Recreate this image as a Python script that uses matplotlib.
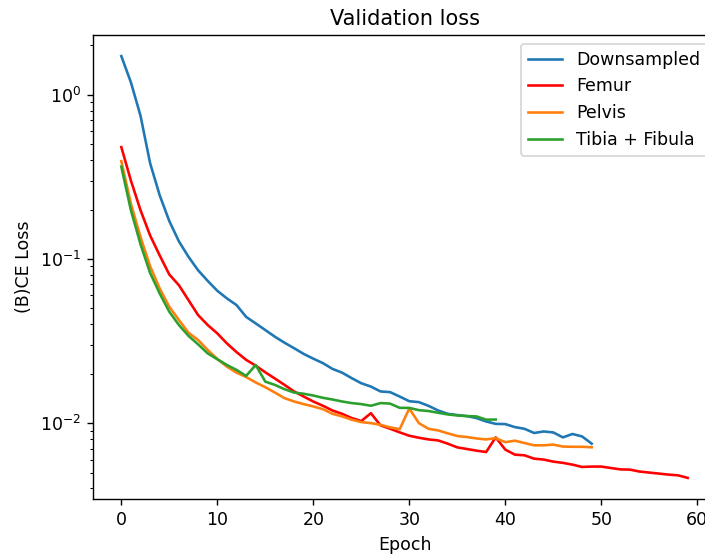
import matplotlib
matplotlib.use("Agg")
import matplotlib.pyplot as plt
import numpy as np

downsampled = [1.72, 1.19, 0.745, 0.383, 0.244, 0.170, 0.128, 0.103, 0.0853, 0.0735,
               0.064, 0.0575, 0.0524, 0.0444, 0.0405, 0.0369, 0.0336, 0.0309, 0.0286, 0.0264,
               0.0247, 0.0232, 0.0214, 0.0203, 0.0188, 0.0175, 0.0167, 0.0156, 0.01545, 0.01452,
               0.0136, 0.01343, 0.01275, 0.01195, 0.0114, 0.0112, 0.01104, 0.01074, 0.01024, 0.0099,
               0.00987, 0.00946, 0.00924, 0.00871, 0.0089, 0.00878, 0.00819, 0.00859, 0.0083, 0.0075]

femur = [0.48, 0.30, 0.198, 0.139, 0.105, 0.0804, 0.0692, 0.0561, 0.0455, 0.0396,
         0.0352, 0.0306, 0.0271, 0.0243, 0.0224, 0.0204, 0.0187, 0.0171, 0.0156, 0.01452,
         0.01354, 0.01276, 0.01194, 0.0114, 0.01074, 0.0103, 0.0115, 0.00969, 0.00925, 0.00879,
         0.00838, 0.00815, 0.00796, 0.00785, 0.0075, 0.00712, 0.00696, 0.0068, 0.00667, 0.00819,
         0.0069, 0.00643, 0.00637, 0.00608, 0.006, 0.00583, 0.00573, 0.00559, 0.00541, 0.00544,
         0.00544, 0.00533, 0.00523, 0.00521, 0.00507, 0.005, 0.00493, 0.00486, 0.00481, 0.00464]

pelvis = [0.394, 0.217, 0.136, 0.0903, 0.066, 0.0511, 0.0425, 0.0355, 0.0321, 0.0279,
          0.0246, 0.0221, 0.0203, 0.0191, 0.0177, 0.01656, 0.01536, 0.0142, 0.01355, 0.01306,
          0.01264, 0.01217, 0.0114, 0.01099, 0.0105, 0.01015, 0.0100, 0.00977, 0.00942, 0.0092,
          0.01228, 0.0100, 0.00924, 0.00903, 0.00867, 0.00835, 0.00823, 0.00807, 0.00796, 0.0081,
          0.00766, 0.00782, 0.00757, 0.00733, 0.00733, 0.0074, 0.0072, 0.00718, 0.00718, 0.00713]

tibia_fibula = [0.365, 0.198, 0.123, 0.0822, 0.0616, 0.0477, 0.0396, 0.034, 0.0302, 0.0266,
                0.0245, 0.0226, 0.0211, 0.0194, 0.0226, 0.0179, 0.0171, 0.0161, 0.01536, 0.0151,
                0.01473, 0.01427, 0.01393, 0.01355, 0.01325, 0.01306, 0.01276, 0.01325, 0.01315, 0.0124,
                0.01238, 0.0120, 0.01185, 0.01157, 0.0113, 0.01114, 0.01104, 0.01099, 0.0105, 0.01052]

series = [
    ("Downsampled", downsampled, "#1f77b4"),
    ("Femur", femur, "red"),
    ("Pelvis", pelvis, "#ff7f0e"),
    ("Tibia + Fibula", tibia_fibula, "#2ca02c"),
]

DPI = 125
fig = plt.figure(figsize=(705 / DPI, 557 / DPI), dpi=DPI)
ax = fig.add_axes([93 / 705, (557 - 499) / 557, 623 / 705, 464 / 557])
for name, vals, color in series:
    ax.plot(np.arange(len(vals)), vals, color=color, label=name, linewidth=1.5)
ax.set_yscale("log")
ax.set_title("Validation loss")
ax.set_xlabel("Epoch")
ax.set_ylabel("(B)CE Loss")
ax.legend(loc="upper right")
fig.savefig("out.png", dpi=DPI)
